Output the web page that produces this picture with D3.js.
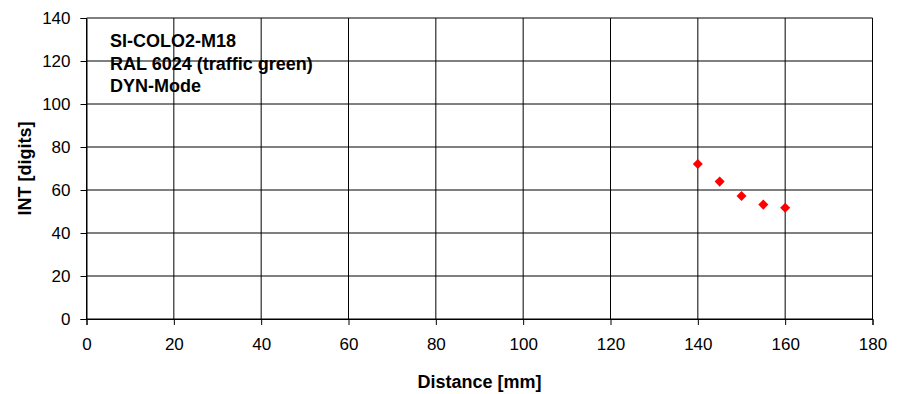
<!DOCTYPE html>
<html>
<head>
<meta charset="utf-8">
<script src="https://cdn.jsdelivr.net/npm/d3@7"></script>
<style>
  body { margin: 0; background: #fff; }
  svg text { font-family: "Liberation Sans", Arial, sans-serif; fill: #000; }
</style>
</head>
<body>
<div id="chart"></div>
<script>
const distance = [140, 145, 150, 155, 160]
const intensity = [72.1, 63.9, 57.2, 53.2, 51.7]
const xTicks = [0, 20, 40, 60, 80, 100, 120, 140, 160, 180]
const yTicks = [0, 20, 40, 60, 80, 100, 120, 140]
const noteLines = ['SI-COLO2-M18', 'RAL 6024 (traffic green)', 'DYN-Mode']

const width = 903
const height = 394

const svg = d3.select('#chart').append('svg')
    .attr('width', width)
    .attr('height', height)

const x = d3.scaleLinear()
    .domain([0, 180])
    .range([86.5, 872.5])

const y = d3.scaleLinear()
    .domain([0, 140])
    .range([319, 18])

// text box sits under the grid, like in the original
const note = svg.append('g')
noteLines.forEach((t, i) => {
    note.append('text')
        .attr('x', 110)
        .attr('y', 47 + i * 22.5)
        .style('font-size', '18px')
        .style('font-weight', 'bold')
        .text(t)
})

// grid
svg.append('g').selectAll('line')
    .data(yTicks)
    .enter().append('line')
        .attr('x1', x(0))
        .attr('x2', x(180))
        .attr('y1', d => y(d))
        .attr('y2', d => y(d))
        .attr('stroke', '#000')
        .attr('stroke-width', 1)

svg.append('g').selectAll('line')
    .data(xTicks)
    .enter().append('line')
        .attr('x1', d => x(d))
        .attr('x2', d => x(d))
        .attr('y1', y(0))
        .attr('y2', y(140))
        .attr('stroke', '#000')
        .attr('stroke-width', 1)

// axes
const xAxis = d3.axisBottom(x)
    .tickValues(xTicks)
    .tickSize(6)
    .tickPadding(13)

const yAxis = d3.axisLeft(y)
    .tickValues(yTicks)
    .tickSize(6)
    .tickPadding(10)

const gx = svg.append('g')
    .attr('transform', `translate(0,${y(0)})`)
    .call(xAxis)

const gy = svg.append('g')
    .attr('transform', `translate(${x(0)},0)`)
    .call(yAxis)

;[gx, gy].forEach(g => {
    g.select('.domain').attr('stroke', '#000')
    g.selectAll('.tick line').attr('stroke', '#000')
    g.selectAll('.tick text')
        .style('font-size', '17px')
        .style('font-family', '"Liberation Sans", Arial, sans-serif')
        .attr('fill', '#000')
})

// points
const diamond = d3.symbol().type(d3.symbolDiamond2).size(64)

svg.append('g').selectAll('path')
    .data(distance)
    .enter().append('path')
        .attr('transform', (d, i) => `translate(${x(d)},${y(intensity[i])})`)
        .attr('d', diamond)
        .attr('fill', '#ff0000')

// axis titles
svg.append('text')
    .attr('x', (x(0) + x(180)) / 2)
    .attr('y', 388)
    .attr('text-anchor', 'middle')
    .style('font-size', '18px')
    .style('font-weight', 'bold')
    .text('Distance [mm]')

svg.append('text')
    .attr('transform', `translate(30.5,${(y(0) + y(140)) / 2}) rotate(-90)`)
    .attr('text-anchor', 'middle')
    .style('font-size', '18px')
    .style('font-weight', 'bold')
    .text('INT [digits]')
</script>
</body>
</html>
